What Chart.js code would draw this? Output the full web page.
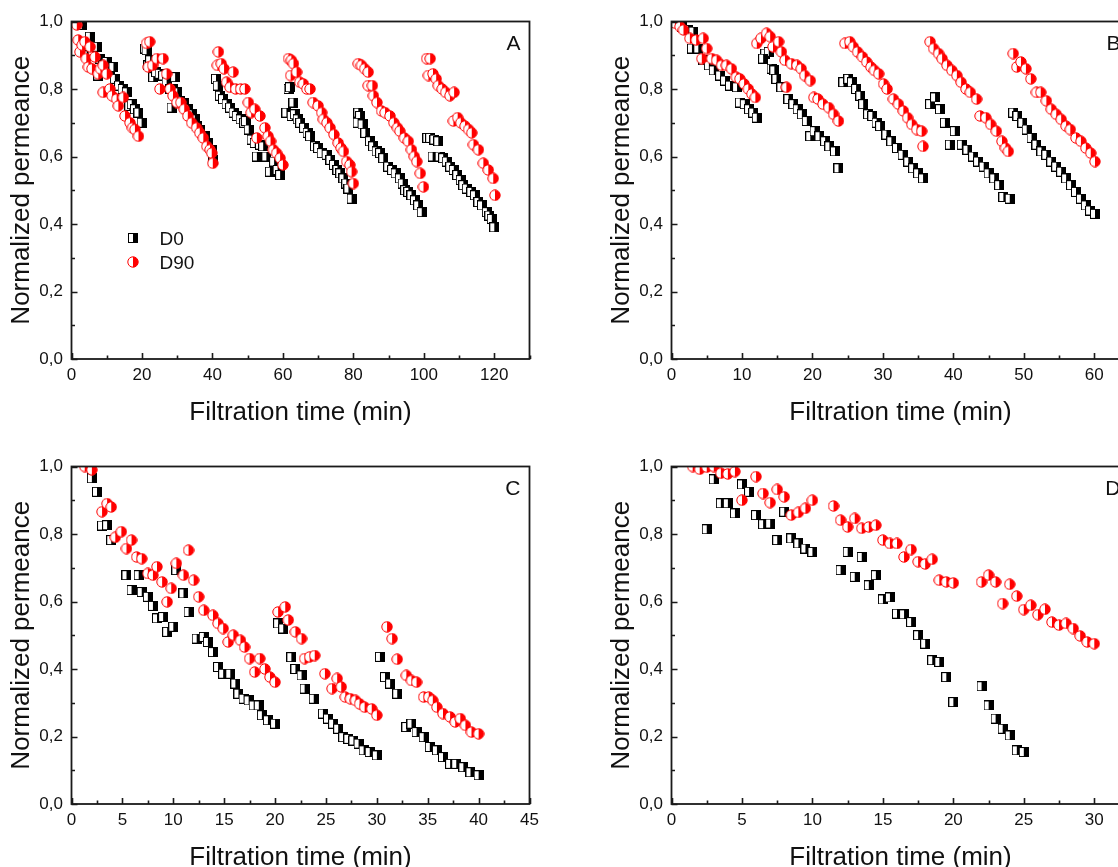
<!DOCTYPE html>
<html>
<head>
<meta charset="utf-8">
<script src="https://cdn.jsdelivr.net/npm/chart.js@4.4.1/dist/chart.umd.min.js"></script>
<style>
html, body { margin: 0; padding: 0; background: #fff; overflow: hidden; width: 1118px; height: 867px; }
.panel { position: absolute; width: 560px; height: 445px; }
</style>
</head>
<body>
<div class="panel" style="left:0;top:0"><canvas id="chartA" width="560" height="445"></canvas></div>
<div class="panel" style="left:600px;top:0"><canvas id="chartB" width="560" height="445"></canvas></div>
<div class="panel" style="left:0;top:445px"><canvas id="chartC" width="560" height="445"></canvas></div>
<div class="panel" style="left:600px;top:445px"><canvas id="chartD" width="560" height="445"></canvas></div>
<script>
const seriesNames = ['D0', 'D90'];
const xTitle = 'Filtration time (min)';
const yTitle = 'Normalized permeance';
const yTicks = [0, 0.2, 0.4, 0.6, 0.8, 1.0];

// panel A (6 cycles of 20 min)
const timeA_D0 = [
    2.9, 3.8, 4.3, 5.2, 6.0, 7.2, 7.6, 8.1, 9.0, 10.0, 10.9, 11.9, 12.3, 13.5, 14.5, 15.7, 16.4, 17.1, 18.0, 19.0, 19.9,
    20.9, 21.3, 21.8, 22.3, 23.2, 24.0, 25.0, 26.0, 27.0, 28.0, 28.4, 28.9, 29.4, 30.0, 30.8, 32.0, 33.0, 34.1, 35.0, 35.5, 36.5, 37.9, 38.8, 39.8, 40.3,
    41.0, 41.5, 42.1, 43.0, 44.0, 45.0, 46.0, 46.9, 48.0, 49.0, 49.5, 50.3, 51.1, 52.0, 52.6, 53.5, 54.4, 55.3, 56.3, 57.5, 58.5, 59.2,
    61.0, 61.6, 62.0, 62.5, 63.0, 63.4, 64.2, 64.9, 66.0, 67.0, 67.7, 69.1, 70.0, 71.0, 72.4, 73.5, 74.5, 75.5, 76.3, 77.2, 78.0, 78.6, 79.5,
    81.4, 81.9, 81.2, 82.6, 83.4, 84.7, 85.6, 86.6, 87.6, 88.5, 89.9, 91.0, 92.0, 93.2, 94.0, 94.7, 95.6, 96.5, 97.5, 98.4, 99.4,
    101.0, 101.8, 103.0, 104.1, 102.5, 104.5, 105.5, 106.5, 107.5, 108.5, 109.5, 110.5, 111.2, 112.2, 113.5, 114.5, 115.5, 116.5, 117.9, 118.6, 119.3, 120.0
];
const normA_D0 = [
    0.99, 0.94, 0.90, 0.955, 0.91, 0.925, 0.84, 0.89, 0.87, 0.88, 0.85, 0.865, 0.83, 0.81, 0.80, 0.79, 0.75, 0.755, 0.74, 0.73, 0.70,
    0.92, 0.915, 0.87, 0.885, 0.835, 0.85, 0.845, 0.84, 0.82, 0.80, 0.745, 0.80, 0.835, 0.79, 0.765, 0.76, 0.74, 0.725, 0.71, 0.69, 0.68, 0.66, 0.64, 0.62, 0.59,
    0.83, 0.81, 0.78, 0.77, 0.755, 0.745, 0.73, 0.72, 0.71, 0.70, 0.705, 0.68, 0.65, 0.64, 0.60, 0.635, 0.63, 0.60, 0.555, 0.585, 0.56, 0.545,
    0.73, 0.80, 0.805, 0.72, 0.76, 0.725, 0.71, 0.70, 0.685, 0.67, 0.66, 0.63, 0.625, 0.61, 0.605, 0.59, 0.575, 0.56, 0.55, 0.535, 0.52, 0.505, 0.475,
    0.73, 0.72, 0.70, 0.695, 0.67, 0.645, 0.63, 0.615, 0.61, 0.595, 0.57, 0.56, 0.55, 0.535, 0.52, 0.50, 0.495, 0.485, 0.47, 0.455, 0.435,
    0.655, 0.655, 0.65, 0.645, 0.60, 0.60, 0.595, 0.585, 0.57, 0.56, 0.545, 0.53, 0.515, 0.505, 0.495, 0.485, 0.465, 0.455, 0.435, 0.425, 0.415, 0.39
];
const timeA_D90 = [
    1.5, 1.9, 2.4, 3.0, 3.8, 4.2, 4.8, 5.3, 5.8, 6.7, 7.6, 8.2, 9.0, 9.0, 10.0, 10.9, 11.5, 12.8, 13.3, 14.7, 15.2, 16.6, 17.3, 18.0, 19.0,
    21.3, 22.2, 21.8, 23.0, 24.2, 25.1, 26.0, 27.0, 28.0, 28.8, 29.9, 31.0, 32.0, 33.0, 34.1, 35.5, 36.4, 37.4, 38.4, 39.3, 39.8, 40.1,
    41.7, 41.4, 42.5, 43.3, 44.0, 45.0, 45.9, 46.6, 48.0, 49.2, 50.2, 51.0, 52.0, 52.6, 53.5, 54.9, 55.8, 56.5, 57.3, 58.2, 59.2, 60.0,
    61.6, 62.4, 63.0, 62.2, 63.9, 64.8, 65.8, 66.8, 67.7, 68.6, 70.0, 71.0, 71.5, 72.5, 73.4, 74.5, 75.7, 76.5, 77.2, 78.1, 79.0, 79.5, 80.0,
    81.4, 82.3, 83.2, 84.2, 84.2, 85.4, 85.7, 86.7, 88.0, 89.0, 90.4, 91.5, 92.5, 93.2, 94.5, 95.6, 96.5, 97.3, 98.0, 99.0, 99.9,
    100.8, 101.8, 101.3, 102.6, 103.5, 104.1, 105.2, 106.2, 107.4, 108.6, 108.4, 109.6, 110.5, 111.7, 112.7, 113.6, 114.1, 115.5, 116.9, 118.3, 119.7, 120.2
];
const normA_D90 = [
    0.99, 0.945, 0.91, 0.93, 0.94, 0.89, 0.865, 0.925, 0.86, 0.895, 0.845, 0.86, 0.87, 0.79, 0.845, 0.80, 0.78, 0.77, 0.75, 0.775, 0.72, 0.70, 0.685, 0.68, 0.66,
    0.935, 0.94, 0.865, 0.87, 0.89, 0.80, 0.89, 0.845, 0.80, 0.78, 0.76, 0.76, 0.74, 0.72, 0.70, 0.685, 0.67, 0.655, 0.63, 0.62, 0.61, 0.58,
    0.91, 0.87, 0.875, 0.86, 0.82, 0.805, 0.85, 0.80, 0.80, 0.80, 0.76, 0.73, 0.74, 0.655, 0.72, 0.685, 0.66, 0.645, 0.62, 0.61, 0.595, 0.575,
    0.89, 0.885, 0.875, 0.84, 0.85, 0.82, 0.815, 0.80, 0.80, 0.76, 0.75, 0.73, 0.71, 0.70, 0.685, 0.665, 0.64, 0.625, 0.615, 0.585, 0.575, 0.555, 0.52,
    0.875, 0.87, 0.86, 0.85, 0.81, 0.81, 0.78, 0.76, 0.735, 0.73, 0.72, 0.70, 0.685, 0.675, 0.655, 0.645, 0.62, 0.60, 0.585, 0.55, 0.51,
    0.89, 0.89, 0.84, 0.845, 0.83, 0.81, 0.80, 0.79, 0.78, 0.79, 0.705, 0.715, 0.70, 0.69, 0.68, 0.67, 0.635, 0.62, 0.58, 0.56, 0.535, 0.485
];

// panel B (5 cycles of 12 min)
const timeB_D0 = [
    0.6, 1.5, 2.3, 3.1, 2.9, 3.8, 4.5, 5.3, 6.0, 6.9, 7.6, 8.3, 9.3, 9.7, 10.4, 11.0, 11.6, 12.1,
    13.3, 13.8, 13.0, 14.2, 14.6, 14.9, 15.6, 16.6, 17.3, 17.9, 18.5, 19.2, 19.7, 20.3, 21.0, 21.8, 22.4, 23.2, 23.7,
    24.4, 25.1, 25.6, 26.2, 26.8, 27.2, 27.9, 28.5, 29.1, 29.6, 30.5, 31.2, 32.0, 32.8, 33.6, 34.3, 35.0, 35.7,
    36.7, 37.4, 38.1, 38.8, 39.5, 40.2, 41.2, 42.0, 42.8, 43.5, 44.3, 45.0, 45.8, 46.5, 47.1, 48.0,
    48.5, 49.1, 49.8, 50.4, 51.1, 51.8, 52.5, 53.2, 53.9, 54.6, 55.3, 56.0, 56.7, 57.4, 58.1, 58.8, 59.4, 60.1
];
const normB_D0 = [
    0.995, 0.985, 0.975, 0.97, 0.92, 0.92, 0.885, 0.87, 0.855, 0.84, 0.825, 0.81, 0.805, 0.76, 0.755, 0.74, 0.73, 0.715,
    0.905, 0.91, 0.89, 0.86, 0.855, 0.83, 0.805, 0.77, 0.755, 0.74, 0.725, 0.705, 0.66, 0.675, 0.66, 0.645, 0.63, 0.615, 0.565,
    0.82, 0.83, 0.82, 0.80, 0.78, 0.755, 0.725, 0.72, 0.70, 0.69, 0.665, 0.645, 0.625, 0.605, 0.585, 0.565, 0.55, 0.535,
    0.755, 0.775, 0.74, 0.70, 0.635, 0.675, 0.635, 0.62, 0.60, 0.585, 0.57, 0.55, 0.535, 0.515, 0.48, 0.475,
    0.73, 0.72, 0.70, 0.68, 0.655, 0.635, 0.615, 0.605, 0.585, 0.57, 0.555, 0.535, 0.515, 0.495, 0.475, 0.455, 0.44, 0.43
];
const timeB_D90 = [
    0.5, 1.2, 1.7, 2.6, 3.5, 4.5, 5.0, 4.3, 5.7, 6.4, 7.1, 7.8, 8.5, 9.2, 9.7, 10.3, 10.9, 11.4, 11.9,
    12.1, 12.7, 13.5, 14.0, 14.4, 15.2, 15.6, 16.1, 16.3, 17.0, 17.8, 18.4, 18.9, 19.7, 20.2, 20.8, 21.5, 22.3, 23.0, 23.7,
    24.6, 25.3, 25.8, 26.4, 27.1, 27.7, 28.3, 28.8, 29.4, 30.1, 30.6, 31.5, 32.2, 32.9, 33.5, 34.1, 34.8, 35.5, 35.7,
    36.7, 37.2, 37.9, 38.4, 39.1, 39.8, 40.5, 41.1, 41.8, 42.4, 43.3, 43.8, 44.6, 45.3, 46.1, 46.9, 47.4, 47.8,
    48.5, 49.0, 49.6, 50.3, 51.0, 51.8, 52.4, 53.2, 53.9, 54.6, 55.3, 56.0, 56.6, 57.4, 58.1, 58.8, 59.5, 60.1
];
const normB_D90 = [
    0.995, 0.985, 0.975, 0.95, 0.945, 0.95, 0.92, 0.89, 0.89, 0.885, 0.87, 0.87, 0.86, 0.835, 0.83, 0.815, 0.80, 0.785, 0.775,
    0.935, 0.95, 0.965, 0.955, 0.925, 0.94, 0.91, 0.885, 0.805, 0.875, 0.87, 0.86, 0.84, 0.825, 0.775, 0.77, 0.755, 0.745, 0.725, 0.705,
    0.935, 0.94, 0.925, 0.91, 0.895, 0.88, 0.865, 0.855, 0.845, 0.815, 0.80, 0.77, 0.755, 0.735, 0.715, 0.695, 0.68, 0.675, 0.63,
    0.94, 0.92, 0.905, 0.89, 0.87, 0.855, 0.84, 0.82, 0.80, 0.79, 0.77, 0.72, 0.715, 0.695, 0.675, 0.645, 0.625, 0.615,
    0.905, 0.865, 0.88, 0.86, 0.83, 0.79, 0.79, 0.765, 0.74, 0.725, 0.71, 0.69, 0.68, 0.655, 0.645, 0.625, 0.61, 0.585
];

// panel C (4 cycles of 10 min)
const timeC_D0 = [
    2.0, 2.5, 3.0, 3.5, 3.9, 5.4, 5.9, 6.6, 6.9, 7.5, 8.0, 8.4, 9.0, 9.4, 10.0,
    10.3, 11.0, 11.5, 12.3, 13.0, 13.4, 13.9, 14.4, 14.9, 15.6, 16.1, 16.4, 16.9, 17.4, 17.9, 18.4, 18.7, 19.3, 20.0,
    20.3, 20.8, 21.6, 22.0, 22.6, 22.9, 23.8, 24.7, 25.2, 25.7, 26.2, 26.7, 27.2, 27.7, 28.2, 28.7, 29.3, 30.0,
    30.3, 30.8, 31.3, 32.0, 32.9, 33.4, 33.9, 34.6, 35.2, 35.9, 36.5, 37.2, 37.8, 38.5, 39.2, 40.0
];
const normC_D0 = [
    0.965, 0.925, 0.825, 0.826, 0.782, 0.678, 0.634, 0.678, 0.628, 0.614, 0.587, 0.55, 0.554, 0.51, 0.525,
    0.693, 0.624, 0.569, 0.49, 0.495, 0.48, 0.45, 0.406, 0.386, 0.386, 0.357, 0.327, 0.312, 0.307, 0.292, 0.292, 0.263, 0.248, 0.238,
    0.535, 0.52, 0.435, 0.40, 0.381, 0.342, 0.312, 0.268, 0.253, 0.238, 0.223, 0.198, 0.193, 0.188, 0.179, 0.159, 0.154, 0.144,
    0.436, 0.376, 0.357, 0.327, 0.228, 0.238, 0.213, 0.198, 0.169, 0.159, 0.139, 0.119, 0.119, 0.109, 0.094, 0.085
];
const timeC_D90 = [
    1.3, 2.0, 3.0, 3.5, 3.9, 4.3, 4.9, 5.4, 5.9, 6.4, 6.9, 7.5, 8.0, 8.4, 8.9, 9.4, 9.8,
    10.3, 11.0, 11.5, 12.0, 12.5, 13.0, 13.9, 14.4, 14.9, 15.4, 15.9, 16.6, 17.0, 17.5, 18.0, 18.5, 19.0, 19.5, 20.0,
    20.3, 21.0, 21.3, 22.0, 22.6, 22.9, 23.4, 23.9, 24.9, 25.6, 26.1, 26.5, 26.9, 27.4, 27.9, 28.3, 28.8, 29.5, 30.0,
    31.0, 31.5, 32.0, 32.9, 33.4, 33.9, 34.6, 35.1, 35.5, 35.9, 36.5, 37.2, 37.7, 38.2, 38.7, 39.3, 40.0
];
const normC_D90 = [
    1.0, 0.99, 0.866, 0.89, 0.88, 0.79, 0.807, 0.757, 0.782, 0.732, 0.727, 0.683, 0.678, 0.703, 0.658, 0.599, 0.639,
    0.713, 0.678, 0.752, 0.663, 0.614, 0.574, 0.559, 0.535, 0.52, 0.48, 0.50, 0.485, 0.465, 0.431, 0.391, 0.431, 0.40, 0.376, 0.361,
    0.569, 0.584, 0.545, 0.51, 0.49, 0.431, 0.436, 0.44, 0.386, 0.342, 0.372, 0.347, 0.317, 0.312, 0.307, 0.297, 0.287, 0.282, 0.263,
    0.525, 0.49, 0.429, 0.381, 0.366, 0.361, 0.317, 0.317, 0.307, 0.287, 0.268, 0.258, 0.243, 0.253, 0.233, 0.213, 0.208
];

// panel D
const timeD_D0 = [
    2.5, 3.0, 3.5, 4.0, 4.5, 5.0, 5.5, 6.0, 6.5, 7.0, 7.5, 8.0, 8.5, 9.0, 9.5, 10.0,
    12.0, 12.5, 13.0, 13.5, 14.0, 14.5, 15.0, 15.5, 16.0, 16.5, 17.0, 17.5, 18.0, 18.5, 19.0, 19.5, 20.0,
    22.0, 22.5, 23.0, 23.5, 24.0, 24.5, 25.0
];
const normD_D0 = [
    0.814, 0.962, 0.891, 0.891, 0.861, 0.947, 0.925, 0.856, 0.829, 0.831, 0.782, 0.866, 0.787, 0.772, 0.757, 0.747,
    0.693, 0.747, 0.673, 0.732, 0.648, 0.678, 0.606, 0.612, 0.564, 0.562, 0.539, 0.50, 0.475, 0.426, 0.421, 0.376, 0.302,
    0.349, 0.292, 0.253, 0.223, 0.203, 0.159, 0.154
];
const timeD_D90 = [
    1.5, 2.0, 2.5, 3.0, 3.5, 4.0, 4.5, 5.0,
    6.0, 6.5, 7.0, 7.5, 8.0, 8.5, 9.0, 9.5, 10.0, 11.5,
    12.0, 12.5, 13.0, 13.5, 14.0, 14.5, 15.0, 15.5, 16.0, 16.5, 17.0, 17.5, 18.0, 18.5, 19.0, 19.5, 20.0,
    22.0, 22.5, 23.0, 23.5, 24.0, 24.5, 25.0, 25.5, 26.0, 26.5, 27.0, 27.5, 28.0, 28.5, 29.0, 29.5, 30.0
];
const normD_D90 = [
    1.0, 0.992, 0.998, 1.0, 0.98, 0.978, 0.985, 0.90,
    0.97, 0.92, 0.893, 0.932, 0.91, 0.856, 0.864, 0.876, 0.90, 0.883,
    0.841, 0.821, 0.846, 0.817, 0.821, 0.826, 0.782, 0.772, 0.772, 0.732, 0.754, 0.718, 0.711, 0.725, 0.663, 0.658, 0.655,
    0.658, 0.678, 0.658, 0.594, 0.651, 0.616, 0.576, 0.589, 0.561, 0.577, 0.539, 0.53, 0.535, 0.52, 0.498, 0.48, 0.475
];

const fontFamily = '"Liberation Sans", Arial, sans-serif';

// half-filled markers like the Origin plot
function squareMarker() {
    const c = document.createElement('canvas');
    c.width = 10; c.height = 10;
    const g = c.getContext('2d');
    g.fillStyle = '#fff';
    g.fillRect(0.5, 0.5, 9, 9);
    g.fillStyle = '#000';
    g.fillRect(5, 0.5, 4.5, 9);
    g.strokeStyle = '#000';
    g.lineWidth = 1;
    g.strokeRect(0.5, 0.5, 9, 9);
    return c;
}

function circleMarker() {
    const c = document.createElement('canvas');
    c.width = 12; c.height = 12;
    const g = c.getContext('2d');
    g.beginPath();
    g.arc(6, 6, 5.2, 0, Math.PI * 2);
    g.fillStyle = '#fff';
    g.fill();
    g.beginPath();
    g.arc(6, 6, 5.2, -Math.PI / 2, Math.PI / 2);
    g.closePath();
    g.fillStyle = '#ff0000';
    g.fill();
    g.beginPath();
    g.arc(6, 6, 5.2, 0, Math.PI * 2);
    g.strokeStyle = '#ff0000';
    g.lineWidth = 1;
    g.stroke();
    return c;
}

const squareImg = squareMarker();
const circleImg = circleMarker();

const toPoints = (xs, ys) => xs.slice(0, Math.min(xs.length, ys.length)).map((x, i) => ({ x: x, y: ys[i] }));
const comma = (v) => v.toFixed(1).replace('.', ',');

// frame, inward ticks, panel letter and legend
const framePlugin = {
    id: 'frame',
    afterDatasetsDraw(chart, args, opts) {
        const { ctx, chartArea: a, scales } = chart;
        const xs = scales.x;
        const ys = scales.y;
        ctx.save();
        ctx.strokeStyle = '#1a1a1a';
        ctx.lineWidth = 1.6;
        ctx.beginPath();
        for (let v = 0; v <= xs.max + 1e-9; v += opts.xMinor) {
            const px = Math.round(xs.getPixelForValue(v)) + 0.5;
            const major = Math.abs(v / opts.xStep - Math.round(v / opts.xStep)) < 1e-6;
            ctx.moveTo(px, a.bottom);
            ctx.lineTo(px, a.bottom - (major ? 6 : 3.5));
        }
        for (let v = 0; v <= 1.0001; v += 0.1) {
            const py = Math.round(ys.getPixelForValue(v)) + 0.5;
            const major = Math.round(v * 10) % 2 === 0;
            ctx.moveTo(a.left, py);
            ctx.lineTo(a.left + (major ? 6 : 3.5), py);
        }
        ctx.stroke();
        ctx.lineWidth = 1.8;
        ctx.strokeRect(a.left, a.top, a.right - a.left, a.bottom - a.top);

        ctx.fillStyle = '#111';
        ctx.font = '21px ' + fontFamily;
        ctx.textAlign = 'right';
        ctx.textBaseline = 'alphabetic';
        ctx.fillText(opts.letter, a.right - 9, a.top + 28.5);

        if (opts.legend) {
            ctx.font = '19px ' + fontFamily;
            ctx.textAlign = 'left';
            chart.data.datasets.forEach((ds, i) => {
                const img = ds.pointStyle;
                const cx = a.left + 61.5;
                const cy = a.top + 216 + i * 24;
                ctx.drawImage(img, Math.round(cx - img.width / 2), Math.round(cy - img.height / 2));
                ctx.fillText(ds.label, a.left + 88, cy + 7.5);
            });
        }
        ctx.restore();
    }
};

function makePanel(id, letter, xMax, xStep, xMinor, d0x, d0y, d90x, d90y, legend) {
    return new Chart(document.getElementById(id), {
        type: 'scatter',
        data: {
            datasets: [{
                label: seriesNames[0],
                data: toPoints(d0x, d0y),
                pointStyle: squareImg,
                pointRadius: 5,
                order: 1
            }, {
                label: seriesNames[1],
                data: toPoints(d90x, d90y),
                pointStyle: circleImg,
                pointRadius: 6,
                order: 0
            }]
        },
        options: {
            responsive: false,
            animation: false,
            layout: { padding: { left: 6.4, top: 21.5, right: 30.5, bottom: 16.4 } },
            plugins: {
                legend: { display: false },
                tooltip: { enabled: false },
                frame: { letter: letter, xStep: xStep, xMinor: xMinor, legend: legend }
            },
            scales: {
                x: {
                    type: 'linear',
                    min: 0,
                    max: xMax,
                    grid: { display: false, drawTicks: false },
                    border: { display: false },
                    ticks: {
                        stepSize: xStep,
                        includeBounds: false,
                        padding: 6,
                        color: '#111',
                        font: { family: fontFamily, size: 17 },
                        maxRotation: 0
                    },
                    title: {
                        display: true,
                        text: xTitle,
                        color: '#111',
                        padding: 0,
                        font: { family: fontFamily, size: 26 }
                    },
                    afterFit: (scale) => { scale.height = 69.6; }
                },
                y: {
                    type: 'linear',
                    min: 0,
                    max: 1,
                    grid: { display: false, drawTicks: false },
                    border: { display: false },
                    afterBuildTicks: (scale) => { scale.ticks = yTicks.map((v) => ({ value: v })); },
                    ticks: {
                        padding: 8.5,
                        color: '#111',
                        font: { family: fontFamily, size: 17 },
                        callback: (v) => comma(v)
                    },
                    title: {
                        display: true,
                        text: yTitle,
                        color: '#111',
                        padding: 0,
                        font: { family: fontFamily, size: 26 }
                    },
                    afterFit: (scale) => { scale.width = 65.1; }
                }
            }
        },
        plugins: [framePlugin]
    });
}

makePanel('chartA', 'A', 130, 20, 10, timeA_D0, normA_D0, timeA_D90, normA_D90, true);
makePanel('chartB', 'B', 65, 10, 5, timeB_D0, normB_D0, timeB_D90, normB_D90, false);
makePanel('chartC', 'C', 45, 5, 2.5, timeC_D0, normC_D0, timeC_D90, normC_D90, false);
makePanel('chartD', 'D', 32.5, 5, 2.5, timeD_D0, normD_D0, timeD_D90, normD_D90, false);
</script>
</body>
</html>
